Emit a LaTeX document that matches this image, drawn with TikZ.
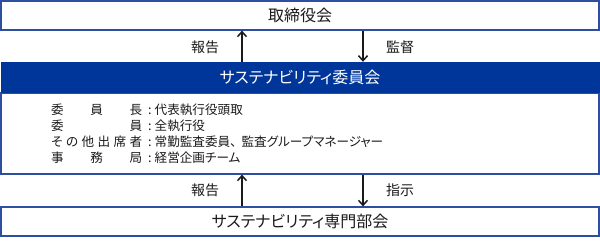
\documentclass[tikz,border=0pt]{standalone}
\usepackage{fontspec}
\setmainfont{Noto Sans CJK JP}[RawFeature=+palt]
\usetikzlibrary{arrows.meta, positioning}
\definecolor{frame}{HTML}{2E4FA0}
\definecolor{band}{HTML}{00359A}
\definecolor{ink}{HTML}{1A1A1A}
\tikzset{
  boxnode/.style={draw=frame, line width=1.2pt, fill=white, minimum width=598pt,
    inner sep=0pt, text=ink, font=\fontsize{16}{18}\selectfont},
  bandnode/.style={fill=band, minimum width=599pt, minimum height=31pt,
    inner sep=0pt, text=white, font=\fontsize{16}{18}\selectfont},
  flowarrow/.style={-{Straight Barb[length=5pt, width=9pt]}, line width=1.5pt, draw=ink},
  flowlbl/.style={font=\fontsize{14}{16}\selectfont, text=ink},
  rowtext/.style={font=\fontsize{12.6}{15}\selectfont, text=ink, anchor=west, inner sep=0pt}
}

\begin{document}
\begin{tikzpicture}[x=1pt, y=1pt]
  \useasboundingbox (0,0) rectangle (600,243);

  % ---- Boxes ---------------------------------------------------------------
  \node[boxnode, minimum height=29pt] (board) at (300, 227.5) {取締役会};
  \node[boxnode, minimum height=81pt] (members) at (300, 109.5) {};
  \node[bandnode] (committee) at (300, 165.5) {サステナビリティ委員会};
  \node[boxnode, minimum height=29pt] (subcomm) at (300, 21.5) {サステナビリティ専門部会};

  % ---- Committee members ---------------------------------------------------
  \foreach \lbl/\val [count=\i from 0] in {
      {委\hfill 員\hfill 長}/{代表執行役頭取},
      {委\hfill 員}/{全執行役},
      {そ\hfill の\hfill 他\hfill 出\hfill 席\hfill 者}/{常勤監査委員\makebox[0.9em][l]{、}監査グループマネージャー},
      {事\hfill 務\hfill 局}/{経営企画チーム}} {
    \node[rowtext] (row\i) at (51, 133-16*\i)
      {\makebox[91pt][l]{\lbl}\hspace{6pt}:\hspace{3pt}\val};
  }

  % ---- Arrows --------------------------------------------------------------
  \draw[flowarrow] ([xshift=-58pt]committee.north) -- ([xshift=-58pt]board.south);
  \draw[flowarrow] ([xshift=63pt]board.south) -- ([xshift=63pt]committee.north);
  \draw[flowarrow] ([xshift=-58pt]subcomm.north) -- ([xshift=-58pt]members.south);
  \draw[flowarrow] ([xshift=63pt]members.south) -- ([xshift=63pt]subcomm.north);

  % ---- Arrow labels --------------------------------------------------------
  \node[flowlbl] (rep1) at (205, 196) {報告};
  \node[flowlbl] (sup)  at (400, 196) {監督};
  \node[flowlbl] (rep2) at (205, 53)  {報告};
  \node[flowlbl] (ins)  at (400, 53)  {指示};

\end{tikzpicture}
\end{document}
